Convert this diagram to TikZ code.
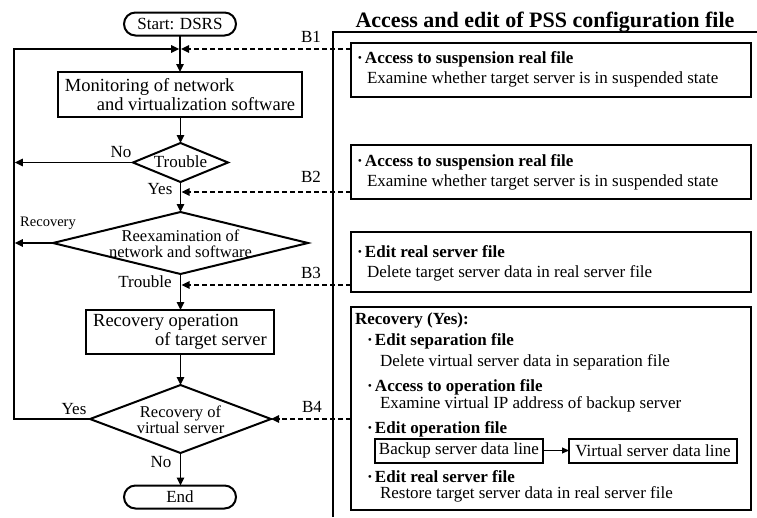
\documentclass[tikz,border=0pt]{standalone}
\usepackage{fontspec}
\setmainfont{Liberation Serif}
\usetikzlibrary{shapes.geometric,arrows.meta}
\newcommand\bul{\makebox[8pt][l]{·}}

\tikzset{
  every node/.style={inner sep=0pt, outer sep=0pt},
  fs/.style={font=\fontsize{17}{15}\selectfont},
  fbig/.style={font=\fontsize{18.5}{19}\selectfont},
  term/.style={draw, line width=2pt, rounded corners=11.5pt, minimum width=112pt,
    minimum height=23pt, fs},
  proc/.style={draw, line width=2.3pt, align=left, fbig},
  dia/.style={diamond, draw, line width=2pt},
  dtext/.style={align=center, font=\fontsize{16.5}{14}\selectfont},
  flow/.style={line width=1.6pt, -{Triangle[length=8pt,width=7.5pt]}},
  link/.style={line width=1.5pt, dash pattern=on 5pt off 3pt,
    -{Triangle[length=8pt,width=7.5pt]}},
  pbox/.style={draw, line width=1.3pt},
  dbox/.style={draw, line width=2pt, inner xsep=4pt, minimum height=24pt, fs},
  hd/.style={anchor=base west, font=\bfseries\fontsize{17}{17}\selectfont},
  tx/.style={anchor=base west, fs},
  lab/.style={fs},
}

\begin{document}
\begin{tikzpicture}[x=1pt,y=-1pt]
\useasboundingbox (0,0) rectangle (757,517);

% ---------- flow chart ----------
\node[term] (start) at (180,24) {Start: DSRS};
\coordinate (m1) at (180,49);
\coordinate (loopx) at (14,0);

\node[proc, minimum width=244pt, minimum height=45pt] (mon) at (180,94.5)
  {Monitoring of network\\\hspace*{32pt}and virtualization software};

\node[dia, minimum width=95pt, minimum height=39pt] (tr) at (180.5,162.5) {};
\node[fs] (trt) at (180.5,161.5) {Trouble};

\node[dia, minimum width=255pt, minimum height=62pt] (re) at (180.5,243) {};
\node[dtext, font=\fontsize{16.5}{15.5}\selectfont] (ret) at (180.5,244)
  {Reexamination of\\network and software};

\node[proc, minimum width=188pt, minimum height=44pt] (rop) at (180,332)
  {Recovery operation\\\hspace*{62pt}of target server};

\node[dia, minimum width=181pt, minimum height=68pt] (rv) at (180.5,419) {};
\node[dtext] (rvt) at (180.5,420) {Recovery of\\virtual server};

\node[term] (end) at (180,497) {End};

% connectors
\draw[flow] (start.south) -- (start.south |- mon.north);
\draw[flow] (mon.south -| tr.north) -- (tr.north);
\draw[flow] (tr.south) -- (re.north);
\draw[flow] (re.south) -- (re.south |- rop.north);
\draw[flow] (rop.south -| rv.north) -- (rv.north);
\draw[flow] (rv.south) -- (rv.south |- end.north);
\draw[flow, shorten >=0.8pt] (tr.west) -- (tr.west -| loopx);
\draw[flow, shorten >=0.8pt] (re.west) -- (re.west -| loopx);
\draw[flow, shorten >=0.8pt] (rv.west) -- (rv.west -| loopx) -- (m1 -| loopx) -- (m1);

% branch labels
\node[lab] (lno1) at (121,152) {No};
\node[lab] (lyes1) at (160,189) {Yes};
\node[lab, font=\fontsize{14.5}{14.5}\selectfont] (lrec) at (48,223.5) {Recovery};
\node[lab] (ltr) at (145,282) {Trouble};
\node[lab] (lyes2) at (74,409) {Yes};
\node[lab] (lno2) at (161,462) {No};
\node[lab] (lb1) at (311,37) {B1};
\node[lab] (lb2) at (311,177) {B2};
\node[lab] (lb3) at (311,273) {B3};
\node[lab] (lb4) at (312,407) {B4};

% ---------- configuration file panel ----------
\coordinate (pbl) at (333,517);
\coordinate (ptl) at (333,32);
\coordinate (ptr) at (757,32);
\draw[line width=1.5pt] (pbl) -- (ptl) -- (ptr);
\node[anchor=base, font=\bfseries\fontsize{22}{22}\selectfont] (title) at (545,27)
  {Access and edit of PSS configuration file};

\node[pbox, minimum width=400pt, minimum height=54pt] (b1) at (551,70) {};
\node[hd] (b1h) at (357,63) {\bul Access to suspension real file};
\node[tx] (b1t) at (367,83) {Examine whether target server is in suspended state};

\node[pbox, minimum width=400pt, minimum height=54pt] (b2) at (551,172) {};
\node[hd] (b2h) at (357,166) {\bul Access to suspension real file};
\node[tx] (b2t) at (367,186) {Examine whether target server is in suspended state};

\node[pbox, minimum width=400pt, minimum height=60pt] (b3) at (551,262) {};
\node[hd] (b3h) at (357,257) {\bul Edit real server file};
\node[tx] (b3t) at (367,277) {Delete target server data in real server file};

\node[pbox, minimum width=400pt, minimum height=203pt] (b4) at (551,408.5) {};
\node[hd] (b4h) at (355,324) {Recovery (Yes):};
\node[hd] (b4a) at (367,345) {\bul Edit separation file};
\node[tx] (b4at) at (380,366) {Delete virtual server data in separation file};
\node[hd] (b4b) at (367,391) {\bul Access to operation file};
\node[tx] (b4bt) at (380,408) {Examine virtual IP address of backup server};
\node[hd] (b4c) at (367,433) {\bul Edit operation file};
\node[dbox, minimum width=168pt] (bk) at (459,450.5) {Backup server data line};
\node[dbox, minimum width=168pt] (vs) at (653,450.5) {Virtual server data line};
\draw[line width=1pt, -{Triangle[length=7pt,width=6pt]}] (bk) -- (vs);
\node[hd] (b4d) at (367,482) {\bul Edit real server file};
\node[tx] (b4dt) at (380,498) {Restore target server data in real server file};

% dashed links from the panel to the flow chart
\draw[link, shorten >=1pt] (b1.west |- m1) -- (m1);
\draw[link, shorten >=1pt] (b2.west |- 0,192) -- (tr.south |- 0,192);
\draw[link, shorten >=1pt] (b3.west |- 0,285) -- (re.south |- 0,285);
\draw[link] (b4.west |- rv.east) -- (rv.east);
\end{tikzpicture}
\end{document}
